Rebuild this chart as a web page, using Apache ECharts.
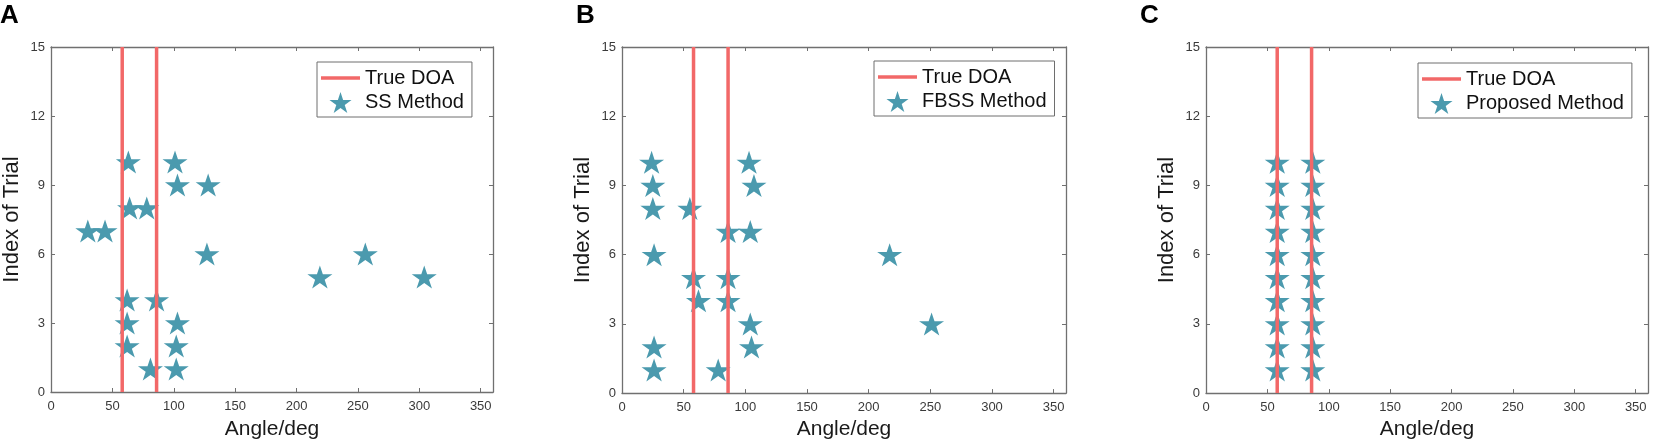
<!DOCTYPE html>
<html>
<head>
<meta charset="utf-8">
<script src="https://cdn.jsdelivr.net/npm/echarts@6/dist/echarts.min.js"></script>
<style>
html, body { margin: 0; padding: 0; background: #fff; }
#chart { width: 1654px; height: 445px; }
</style>
</head>
<body>
<div id="chart"></div>
<script>
// 数据：每次试验 (Index of Trial) 的两个估计角度
var trialIndex = [1, 2, 3, 4, 5, 6, 7, 8, 9, 10];
var trueDoa = [58, 86];
var ssFirst = [81, 62, 62, 62, 219, 127, 30, 64, 103, 63];
var ssSecond = [102, 102, 103, 86, 304, 256, 44, 78, 128, 101];
var fbssFirst = [26, 26, 104, 62, 58, 26, 86, 25, 25, 24];
var fbssSecond = [78, 105, 251, 86, 86, 217, 104, 55, 107, 103];
var propFirst = [58, 58, 58, 58, 58, 58, 58, 58, 58, 58];
var propSecond = [87, 87, 87, 87, 87, 87, 87, 87, 87, 87];
var panelLetters = ['A', 'B', 'C'];
var methodNames = ['SS Method', 'FBSS Method', 'Proposed Method'];
var estimates = [[ssFirst, ssSecond], [fbssFirst, fbssSecond], [propFirst, propSecond]];

var chart = echarts.init(document.getElementById('chart'));

var FONT = 'Liberation Sans, Arial, Helvetica, sans-serif';
var RED = '#f26868';
var TEAL = '#4b9aae';
var BOX = '#707070';
// 五角星 (MATLAB pentagram)
var STAR = 'path://M95.1,0L117.55,69.1L190.2,69.1L131.4,111.8L153.9,180.9L95.1,138.2L36.3,180.9L58.8,111.8L0,69.1L72.65,69.1Z';

// 三个子图的位置
var grids = [
  { left: 49, top: 47, width: 444, height: 346 },
  { left: 622, top: 47, width: 444, height: 350 },
  { left: 1206, top: 47, width: 442, height: 350 }
];
var legendPos = [
  { left: 317, top: 62 },
  { left: 874, top: 61 },
  { left: 1418, top: 63 }
];
var letterPos = [0, 576, 1140];

var xAxes = [], yAxes = [], series = [], legends = [], graphics = [];

grids.forEach(function (g, i) {
  // 下、上 x 轴
  ['bottom', 'top'].forEach(function (pos) {
    xAxes.push({
      type: 'value', gridIndex: i, position: pos,
      min: 0, max: 360, interval: 50,
      name: pos === 'bottom' ? 'Angle/deg' : '',
      nameLocation: 'middle', nameGap: i === 0 ? 27 : 24,
      nameTextStyle: { fontFamily: FONT, fontSize: 21, color: '#1a1a1a' },
      axisLine: { show: true, onZero: false, lineStyle: { color: BOX, width: 1.3 } },
      axisTick: { show: true, inside: true, length: 4, lineStyle: { color: BOX } },
      axisLabel: {
        show: pos === 'bottom', showMaxLabel: false, margin: 8,
        fontFamily: FONT, fontSize: 13, color: '#3a3a3a'
      },
      splitLine: { show: false }
    });
  });
  // 左、右 y 轴
  ['left', 'right'].forEach(function (pos) {
    yAxes.push({
      type: 'value', gridIndex: i, position: pos,
      min: 0, max: 15, interval: 3,
      name: pos === 'left' ? 'Index of Trial' : '',
      nameLocation: 'middle', nameGap: 28,
      nameTextStyle: { fontFamily: FONT, fontSize: 22, color: '#1a1a1a' },
      axisLine: { show: true, onZero: false, lineStyle: { color: BOX, width: 1.3 } },
      axisTick: { show: true, inside: true, length: 4, lineStyle: { color: BOX } },
      axisLabel: {
        show: pos === 'left', margin: 6,
        fontFamily: FONT, fontSize: 13, color: '#3a3a3a'
      },
      splitLine: { show: false }
    });
  });

  // 估计结果 (星号)
  var pts = [];
  trialIndex.forEach(function (t, k) {
    pts.push([estimates[i][0][k], t]);
    pts.push([estimates[i][1][k], t]);
  });
  series.push({
    name: methodNames[i], type: 'scatter',
    xAxisIndex: i * 2, yAxisIndex: i * 2,
    symbol: STAR, symbolSize: [25, 23],
    itemStyle: { color: TEAL, opacity: 1 },
    data: pts, z: 2
  });

  // 真实 DOA (竖线)
  trueDoa.forEach(function (d) {
    series.push({
      name: 'True DOA', type: 'line',
      xAxisIndex: i * 2, yAxisIndex: i * 2,
      symbol: 'none',
      lineStyle: { color: RED, width: 3.5 },
      itemStyle: { color: RED },
      data: [[d, 0], [d, 15]], z: 3
    });
  });

  legends.push({
    left: legendPos[i].left, top: legendPos[i].top,
    orient: 'vertical',
    data: [
      { name: 'True DOA', icon: 'path://M0,0L100,0L100,9L0,9Z' },
      { name: methodNames[i], icon: STAR }
    ],
    itemWidth: 39, itemHeight: 21, itemGap: 4,
    padding: [6, 8, 4, 4],
    borderColor: '#6e6e6e', borderWidth: 1, backgroundColor: '#fff',
    selectedMode: false,
    textStyle: { fontFamily: FONT, fontSize: 20, color: '#111' }
  });

  graphics.push({
    type: 'text', left: letterPos[i], top: 3,
    style: { text: panelLetters[i], font: 'bold 26px ' + FONT, fill: '#000' }
  });
});

var option = {
  backgroundColor: '#fff',
  animation: false,
  grid: grids,
  xAxis: xAxes,
  yAxis: yAxes,
  legend: legends,
  graphic: graphics,
  series: series
};

chart.setOption(option);
</script>
</body>
</html>
